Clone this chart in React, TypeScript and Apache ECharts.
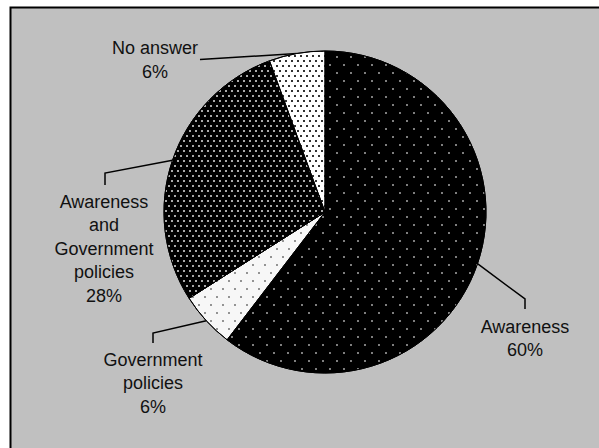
import React, { useEffect, useRef } from 'react';
import * as echarts from 'echarts';

// ---- data ----
const CATEGORIES = ['Awareness', 'Government policies', 'Awareness and Government policies', 'No answer'];
const VALUES = [60.4, 5.6, 28.4, 5.6];
const LABEL_TEXT = ['Awareness', 'Government\npolicies', 'Awareness\nand\nGovernment\npolicies', 'No answer'];

// ---- layout (label anchors: centre x, top y; leader bend points) ----
const LABEL_ANCHORS: number[][] = [[525, 315], [153, 348], [104, 190], [155, 36.5]];
const LEADER_BENDS: number[][][] = [
  [[525, 299], [525, 309]],
  [[153, 333], [153, 343]],
  [[105, 173], [105, 185]],
  [[200, 59.5], [200, 59.5]],
];

// ---- fills (base colour + dot pattern) ----
const FILLS: any[] = [
  { color: '#000000', decal: { symbol: 'rect', symbolSize: 0.8, color: '#d4d4d4', dashArrayX: [[2, 12], [0, 7, 2, 5]], dashArrayY: [2, 6] } },
  { color: '#f7f7f7', decal: { symbol: 'rect', symbolSize: 0.8, color: '#505050', dashArrayX: [[2, 10], [0, 6, 2, 4]], dashArrayY: [2, 6] } },
  { color: '#000000', decal: { symbol: 'rect', symbolSize: 0.9, color: '#bdbdbd', dashArrayX: [[2, 4], [0, 3, 2, 1]], dashArrayY: [2, 3] } },
  { color: '#ffffff', decal: { symbol: 'rect', symbolSize: 0.9, color: '#1a1a1a', dashArrayX: [[2, 4], [0, 3, 2, 1]], dashArrayY: [2, 3] } },
];

export default function App() {
  const ref = useRef<HTMLDivElement>(null);

  useEffect(() => {
    if (!ref.current) return;
    const chart = echarts.init(ref.current, undefined, { renderer: 'svg' });
    const data = CATEGORIES.map((name, i) => ({
      name,
      value: VALUES[i],
      itemStyle: {
        color: FILLS[i].color,
        decal: FILLS[i].decal,
        borderColor: '#000',
        borderWidth: 1,
      },
    }));

    chart.setOption({
      animation: false,
      backgroundColor: 'transparent',
      graphic: [
        {
          type: 'rect',
          z: -10,
          silent: true,
          shape: { x: 10.5, y: 7.5, width: 620, height: 460 },
          style: { fill: '#c0c0c0', stroke: '#000', lineWidth: 2 },
        },
      ],
      series: [
        {
          type: 'pie',
          center: [325, 212],
          radius: 161,
          startAngle: 90,
          clockwise: true,
          silent: true,
          avoidLabelOverlap: false,
          emphasis: { disabled: true },
          data,
          label: {
            show: true,
            position: 'outside',
            fontSize: 18,
            fontFamily: '"Liberation Sans", Arial, sans-serif',
            color: '#111',
            lineHeight: 23.5,
            align: 'center',
            formatter: (p: any) => `${LABEL_TEXT[p.dataIndex]}\n${Math.round(p.percent)}%`,
          },
          labelLine: {
            show: true,
            length: 20,
            length2: 10,
            lineStyle: { color: '#000', width: 1.5 },
          },
          labelLayout: (params: any) => {
            const i = params.dataIndex;
            const [ax, ay] = LABEL_ANCHORS[i];
            const bends = LEADER_BENDS[i];
            const pts = params.labelLinePoints;
            const res: any = { x: ax, y: ay, align: 'center', verticalAlign: 'top' };
            if (pts && pts[0]) {
              res.labelLinePoints = [pts[0], bends[0], bends[1]];
            }
            return res;
          },
        },
      ],
    });

    return () => chart.dispose();
  }, []);

  return (
    <div
      ref={ref}
      style={{ position: 'fixed', left: 0, top: 0, width: 599, height: 448, background: '#fff' }}
    />
  );
}
